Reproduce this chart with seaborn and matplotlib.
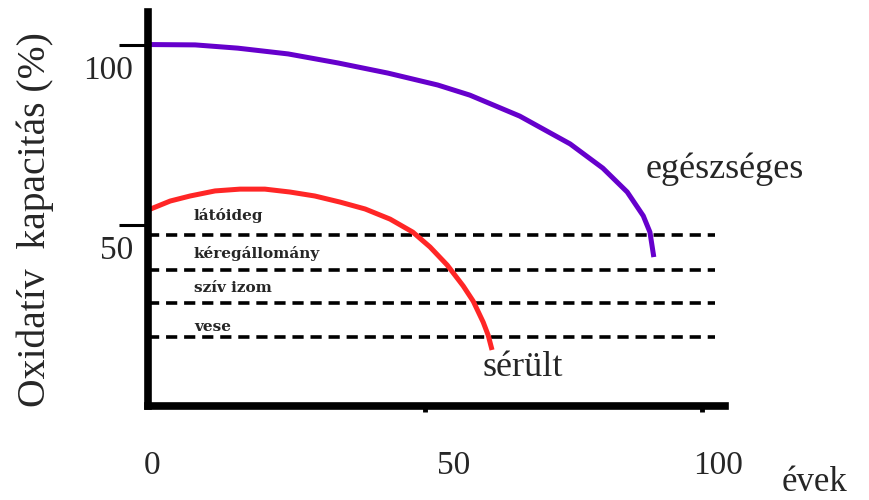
import matplotlib
matplotlib.use('Agg')
import matplotlib.pyplot as plt
import seaborn as sns
import pandas as pd

# egészséges (healthy) curve
healthy_years = [0, 8.5, 16.2, 25.3, 34.3, 43.3, 52.3, 58.1, 67.1, 76.2, 82.1, 86.5, 89.4, 90.6, 91.3]
healthy_capacity = [100, 99.9, 99.0, 97.4, 94.9, 92.1, 88.8, 86.0, 80.2, 72.5, 65.8, 59.2, 52.6, 48.1, 41.2]

# sérült (damaged) curve
damaged_years = [0, 4.0, 7.6, 12.1, 16.6, 21.1, 25.6, 30.1, 34.7, 39.2, 43.7, 47.8, 50.9,
                 54.0, 56.9, 58.7, 60.5, 61.4, 62.1]
damaged_capacity = [54.2, 56.7, 58.1, 59.5, 60.0, 60.0, 59.2, 58.1, 56.4, 54.5, 51.7, 48.1, 44.0,
                    39.0, 33.2, 29.0, 23.2, 19.6, 15.5]

# organ thresholds (dashed lines)
organs = ['látóideg', 'kéregállomány', 'szív izom', 'vese']
thresholds = [47.3, 37.6, 28.5, 19.1]

x_ticks = [0, 50, 100]
y_ticks = [50, 100]

healthy = pd.DataFrame({'év': healthy_years, 'kapacitás': healthy_capacity})
damaged = pd.DataFrame({'év': damaged_years, 'kapacitás': damaged_capacity})

sns.set_theme(style='white')
plt.rcParams['font.family'] = ['Liberation Serif', 'DejaVu Serif']

fig = plt.figure(figsize=(8.69, 5), dpi=100)
ax = fig.add_axes([148 / 869, 1 - 406 / 500, (725 - 148) / 869, (406 - 12) / 500])

# dashed threshold lines
ax.hlines(thresholds, 0, 102.3, colors='black', linewidth=2.6,
          linestyles=(0, (3.1, 1.9)))

sns.lineplot(data=healthy, x='év', y='kapacitás', color='#6600cc', linewidth=3.6,
             ax=ax, solid_capstyle='butt', solid_joinstyle='round')
sns.lineplot(data=damaged, x='év', y='kapacitás', color='#ff2626', linewidth=3.6,
             ax=ax, solid_capstyle='butt', solid_joinstyle='round')

ax.set_xlim(0, 104.15)
ax.set_ylim(0, 109)
ax.set_xlabel('')
ax.set_ylabel('')

for side in ['top', 'right']:
    ax.spines[side].set_visible(False)
for side in ['left', 'bottom']:
    ax.spines[side].set_linewidth(5.5)
    ax.spines[side].set_color('black')
    ax.spines[side].set_capstyle('projecting')

ax.set_xticks(x_ticks, labels=[])
ax.set_yticks(y_ticks, labels=[])
ax.tick_params(axis='x', direction='out', length=4, width=3.5, color='black', bottom=True)
ax.tick_params(axis='y', direction='out', length=21, width=2.2, color='black', left=True)
ax.xaxis.get_major_ticks()[0].tick1line.set_visible(False)

# tick labels (set below/right of the tick marks like the original)
for xv, lab, xpos in zip(x_ticks, ['0', '50', '100'], [0.7, 55.2, 102.9]):
    ax.text(xpos, -16.6, lab, ha='center', va='center', fontsize=24, clip_on=False)
for yv, ypos in zip(y_ticks, [42.9, 92.7]):
    ax.text(-2.7, ypos, str(yv), ha='right', va='center', fontsize=24, clip_on=False)

# organ labels
for name, ypos in zip(organs, [52.7, 42.3, 32.6, 21.8]):
    ax.text(8.3, ypos, name, ha='left', va='center', fontsize=11, fontweight='bold',
            family=['DejaVu Serif'])

ax.text(89.9, 63.0, 'egészséges', ha='left', va='baseline', fontsize=26)
ax.text(60.3, 8.3, 'sérült', ha='left', va='baseline', fontsize=26)
ax.text(114.4, -21.3, 'évek', ha='left', va='center', fontsize=25, clip_on=False)
ax.text(-20.4, 51.7, 'Oxidatív  kapacitás (%)', rotation=90, ha='center', va='center',
        fontsize=28.5, clip_on=False)

plt.savefig('out.png', dpi=100)
